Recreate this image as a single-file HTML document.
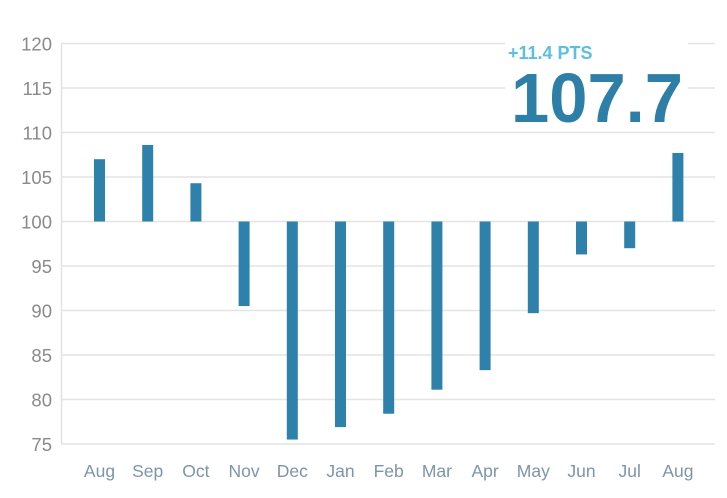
<!DOCTYPE html>
<html><head><meta charset="utf-8"><style>
body{margin:0;background:#fff;}
svg{display:block;font-family:"Liberation Sans",sans-serif;}
</style></head><body>
<svg id="chart" width="727" height="498"></svg>
<script>
const categories=["Aug","Sep","Oct","Nov","Dec","Jan","Feb","Mar","Apr","May","Jun","Jul","Aug"];
const values=[107,108.6,104.3,90.5,75.5,76.9,78.4,81.1,83.3,89.7,96.3,97,107.7];
const yTicks=[75,80,85,90,95,100,105,110,115,120];
const baseline=100;
const headline="107.7";
const change="+11.4 PTS";
const NS="http://www.w3.org/2000/svg";
const svg=document.getElementById('chart');
const y=v=>221.5-(v-100)*8.9;
const x=i=>99.5+i*48.2;
function mk(t,a){const e=document.createElementNS(NS,t);for(const k in a)e.setAttribute(k,a[k]);svg.appendChild(e);return e;}
let ax=mk('line',{x1:61.5,y1:44,x2:61.5,y2:y(75),stroke:'#e2e2e2','stroke-width':1.5});


yTicks.forEach(v=>{
 const g=mk('line',{x1:61,x2:715,y1:y(v),y2:y(v),stroke:'#e4e4e4','stroke-width':1.5});
 
 
 const t=mk('text',{x:52,y:y(v)+7,'text-anchor':'end','font-size':18.5,fill:'#8a8a8a'});
 t.textContent=v;
 
 
});
const box=mk('rect',{x:505,y:40,width:183,height:90,fill:'#fff'});


values.forEach((v,i)=>{
 const b=mk('rect',{x:x(i)-5.5,y:Math.min(y(v),y(baseline)),width:11,height:Math.abs(y(v)-y(baseline)),fill:'#2e81aa'});
 
 
 const t=mk('text',{x:x(i),y:477,'text-anchor':'middle','font-size':17.5,fill:'#7d95a9'});
 t.textContent=categories[i];
 
 
});
const c=mk('text',{x:508,y:59,'font-size':18,'font-weight':'bold',fill:'#5bbfdd'});
c.textContent=change;


const h=mk('text',{x:511,y:122,'font-size':70,'font-weight':'bold',fill:'#2e7fa8',textLength:172,lengthAdjust:'spacingAndGlyphs'});
h.textContent=headline;


</script>
</body></html>
